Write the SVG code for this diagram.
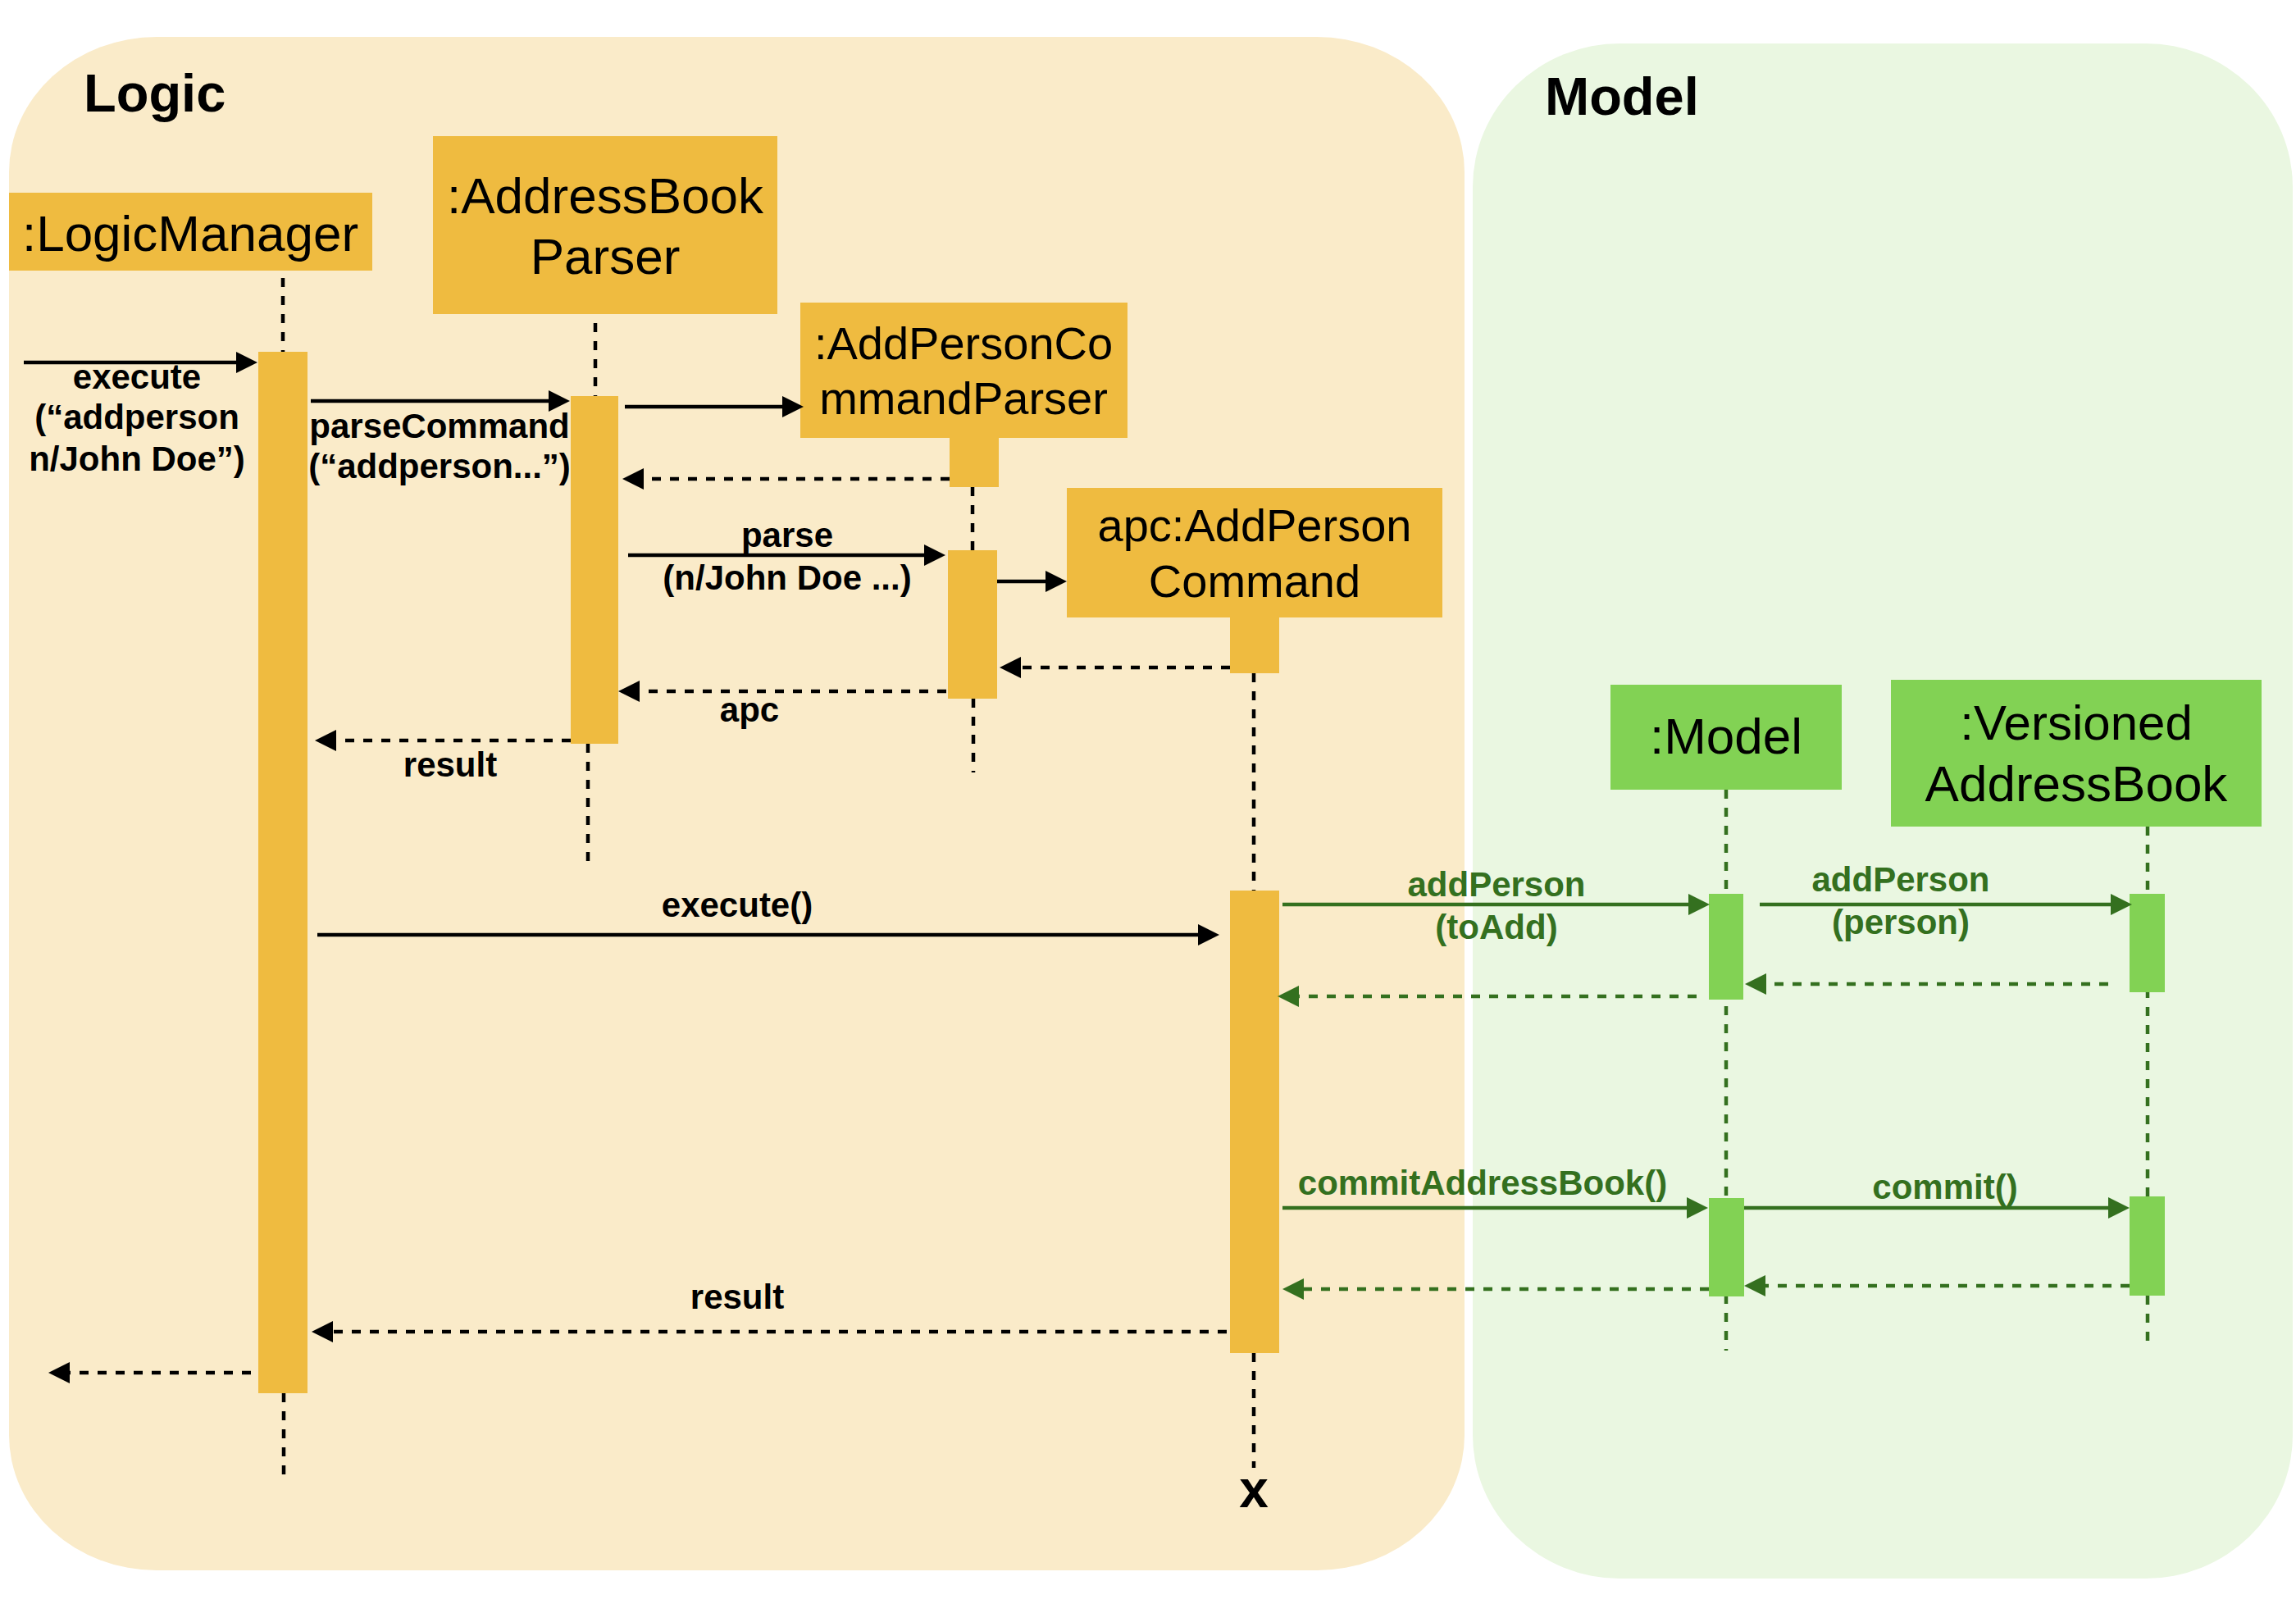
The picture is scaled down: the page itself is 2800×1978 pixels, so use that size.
<svg xmlns="http://www.w3.org/2000/svg" width="2800" height="1978" viewBox="0 0 2800 1978">
<defs>
<style>
.hdr{font-family:"Liberation Sans",Arial,Helvetica,sans-serif;font-size:62px;fill:#000;text-anchor:middle}
.hdr56{font-family:"Liberation Sans",Arial,Helvetica,sans-serif;font-size:56px;fill:#000;text-anchor:middle}
.title{font-family:"Liberation Sans",Arial,Helvetica,sans-serif;font-size:65px;font-weight:bold;fill:#000}
.lbl{font-family:"Liberation Sans",Arial,Helvetica,sans-serif;font-size:42px;font-weight:bold;fill:#000;text-anchor:middle}
.glbl{font-family:"Liberation Sans",Arial,Helvetica,sans-serif;font-size:42px;font-weight:bold;fill:#34701F;text-anchor:middle}
.obox{fill:#EFBB40}
.gbox{fill:#82D254}
.life{stroke:#000;stroke-width:4.5;stroke-dasharray:11 11;fill:none}
.glife{stroke:#34701F;stroke-width:4.5;stroke-dasharray:11 11;fill:none}
.msg{stroke:#000;stroke-width:4.5;fill:none;marker-end:url(#ab)}
.ret{stroke:#000;stroke-width:4.5;stroke-dasharray:11 11;fill:none;marker-end:url(#ab)}
.gmsg{stroke:#34701F;stroke-width:4.5;fill:none;marker-end:url(#ag)}
.gret{stroke:#34701F;stroke-width:4.5;stroke-dasharray:11 11;fill:none;marker-end:url(#ag)}
</style>
<marker id="ab" markerUnits="userSpaceOnUse" markerWidth="26" markerHeight="26" viewBox="0 0 26 26" refX="6" refY="13" orient="auto">
<path d="M0,0 L26,13 L0,26 Z" fill="#000"/>
</marker>
<marker id="ag" markerUnits="userSpaceOnUse" markerWidth="26" markerHeight="26" viewBox="0 0 26 26" refX="6" refY="13" orient="auto">
<path d="M0,0 L26,13 L0,26 Z" fill="#34701F"/>
</marker>
</defs>
<rect width="2800" height="1978" fill="#FFFFFF"/>

<g id="logic-panel">
<rect x="11" y="45" width="1775" height="1870" rx="180" ry="165" fill="#FAEBC9"/>
<text class="title" x="102" y="136">Logic</text>
</g>
<g id="model-panel">
<rect x="1796" y="53" width="1000" height="1872" rx="180" ry="175" fill="#EAF7E1"/>
<text class="title" x="1884" y="140">Model</text>
</g>

<g id="logicManager">
<rect class="obox" x="11" y="235" width="443" height="95"/>
<text class="hdr" x="232" y="306">:LogicManager</text>
<line class="life" x1="345" y1="339" x2="345" y2="433"/>
<line class="life" x1="346" y1="1699" x2="346" y2="1805"/>
<rect class="obox" x="315" y="429" width="60" height="1270"/>
</g>

<g id="addressBookParser">
<rect class="obox" x="528" y="166" width="420" height="217"/>
<text class="hdr" x="738" y="260">:AddressBook</text>
<text class="hdr" x="738" y="334">Parser</text>
<line class="life" x1="726" y1="394" x2="726" y2="490"/>
<line class="life" x1="717" y1="907" x2="717" y2="1051"/>
<rect class="obox" x="696" y="483" width="58" height="424"/>
</g>

<g id="addPersonCommandParser">
<rect class="obox" x="976" y="369" width="399" height="165"/>
<text class="hdr56" x="1175" y="438">:AddPersonCo</text>
<text class="hdr56" x="1175" y="505">mmandParser</text>
<rect class="obox" x="1158" y="530" width="60" height="64"/>
<line class="life" x1="1186" y1="594" x2="1186" y2="671"/>
<line class="life" x1="1187" y1="852" x2="1187" y2="942"/>
<rect class="obox" x="1156" y="671" width="60" height="181"/>
</g>

<g id="addPersonCommand">
<rect class="obox" x="1301" y="595" width="458" height="158"/>
<text class="hdr56" x="1530" y="660">apc:AddPerson</text>
<text class="hdr56" x="1530" y="728">Command</text>
<rect class="obox" x="1500" y="750" width="60" height="71"/>
<line class="life" x1="1529" y1="821" x2="1529" y2="1086"/>
<line class="life" x1="1529" y1="1650" x2="1529" y2="1790"/>
<rect class="obox" x="1500" y="1086" width="60" height="564"/>
<text class="lbl" x="1529" y="1838" style="font-size:64px">x</text>
</g>

<g id="model">
<rect class="gbox" x="1964" y="835" width="282" height="128"/>
<text class="hdr" x="2105" y="919">:Model</text>
<line class="glife" x1="2105" y1="963" x2="2105" y2="1647"/>
<rect class="gbox" x="2084" y="1090" width="42" height="129"/>
<rect class="gbox" x="2084" y="1461" width="43" height="120"/>
</g>

<g id="versionedAddressBook">
<rect class="gbox" x="2306" y="829" width="452" height="179"/>
<text class="hdr" x="2532" y="902" style="font-size:60px">:Versioned</text>
<text class="hdr" x="2532" y="977">AddressBook</text>
<line class="glife" x1="2619" y1="1008" x2="2619" y2="1640"/>
<rect class="gbox" x="2597" y="1090" width="43" height="120"/>
<rect class="gbox" x="2597" y="1459" width="43" height="121"/>
</g>

<g id="connectors">
<line class="msg" x1="29" y1="442" x2="294" y2="442"/>
<text class="lbl" x="167" y="474">execute</text>
<text class="lbl" x="167" y="523">(“addperson</text>
<text class="lbl" x="167" y="574">n/John Doe”)</text>

<line class="msg" x1="379" y1="489" x2="675" y2="489"/>
<text class="lbl" x="536" y="534">parseCommand</text>
<text class="lbl" x="536" y="583">(“addperson...”)</text>

<line class="msg" x1="762" y1="496" x2="960" y2="496"/>
<line class="ret" x1="1158" y1="584" x2="779" y2="584"/>

<line class="msg" x1="766" y1="677" x2="1133" y2="677"/>
<text class="lbl" x="960" y="667">parse</text>
<text class="lbl" x="960" y="719">(n/John Doe ...)</text>

<line class="msg" x1="1216" y1="709" x2="1281" y2="709"/>
<line class="ret" x1="1500" y1="814" x2="1239" y2="814"/>

<line class="ret" x1="1154" y1="843" x2="774" y2="843"/>
<text class="lbl" x="914" y="880">apc</text>

<line class="ret" x1="696" y1="903" x2="404" y2="903"/>
<text class="lbl" x="549" y="947">result</text>

<line class="msg" x1="387" y1="1140" x2="1467" y2="1140"/>
<text class="lbl" x="899" y="1118">execute()</text>

<line class="ret" x1="1496" y1="1624" x2="400" y2="1624"/>
<text class="lbl" x="899" y="1596">result</text>

<line class="ret" x1="306" y1="1674" x2="79" y2="1674"/>

<line class="gmsg" x1="1564" y1="1103" x2="2065" y2="1103"/>
<text class="glbl" x="1825" y="1093">addPerson</text>
<text class="glbl" x="1825" y="1145">(toAdd)</text>

<line class="gmsg" x1="2146" y1="1103" x2="2580" y2="1103"/>
<text class="glbl" x="2318" y="1087">addPerson</text>
<text class="glbl" x="2318" y="1139">(person)</text>

<line class="gret" x1="2571" y1="1200" x2="2148" y2="1200"/>
<line class="gret" x1="2069" y1="1215" x2="1578" y2="1215"/>

<line class="gmsg" x1="1564" y1="1473" x2="2063" y2="1473"/>
<text class="glbl" x="1808" y="1457">commitAddressBook()</text>

<line class="gmsg" x1="2127" y1="1473" x2="2577" y2="1473"/>
<text class="glbl" x="2372" y="1462">commit()</text>

<line class="gret" x1="2597" y1="1568" x2="2147" y2="1568"/>
<line class="gret" x1="2084" y1="1572" x2="1584" y2="1572"/>
</g>
</svg>
